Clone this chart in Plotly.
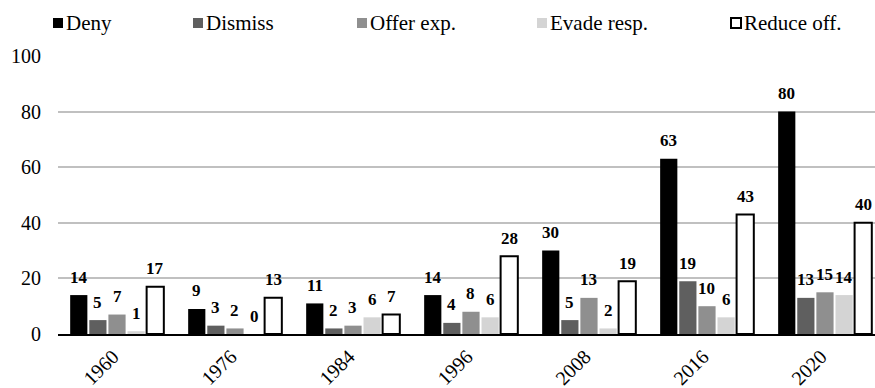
import plotly.graph_objects as go

# ---- data -------------------------------------------------------------
years = ["1960", "1976", "1984", "1996", "2008", "2016", "2020"]
series_names = ["Deny", "Dismiss", "Offer exp.", "Evade resp.", "Reduce off."]
deny = [14, 9, 11, 14, 30, 63, 80]
dismiss = [5, 3, 2, 4, 5, 19, 13]
offer_exp = [7, 2, 3, 8, 13, 10, 15]
evade_resp = [1, 0, 6, 6, 2, 6, 14]
reduce_off = [17, 13, 7, 28, 19, 43, 40]
y_ticks = [0, 20, 40, 60, 80, 100]

series_values = [deny, dismiss, offer_exp, evade_resp, reduce_off]

# ---- styling ----------------------------------------------------------
FONT = "Liberation Serif"
fills = ["#000000", "#5f5f5f", "#8f8f8f", "#d4d4d4", "#ffffff"]
outline_w = [0, 0, 0, 0, 2]

W, H = 875, 388
M_L, M_R, M_T, M_B = 58, 0, 56, 54
PW, PH = W - M_L - M_R, H - M_T - M_B
BARGAP, GROUPGAP = 0.19, 0.1


def px_x(px):
    return (px - M_L) / PW


def px_y(py):
    return (H - M_B - py) / PH


fig = go.Figure()
for name, vals, col, lw in zip(series_names, series_values, fills, outline_w):
    fig.add_trace(go.Bar(
        name=name, x=years, y=vals,
        marker=dict(color=col, line=dict(color="#000000", width=lw)),
        showlegend=False,
    ))

# value labels centred above every bar (category-index coordinates)
n = len(series_values)
slot = (1 - BARGAP) / n
annotations = []
for i, vals in enumerate(series_values):
    offset = -(1 - BARGAP) / 2 + slot * (i + 0.5)
    for j, v in enumerate(vals):
        annotations.append(dict(
            x=j + offset, y=v, xref="x", yref="y",
            text=f"<b>{v}</b>", showarrow=False,
            xanchor="center", yanchor="middle", yshift=18,
            font=dict(family=FONT, size=17, color="#000000"),
        ))

# legend row along the top
legend_marker_left = [53, 193, 357, 537, 731]
shapes = []
for name, col, lw, left in zip(series_names, fills, outline_w, legend_marker_left):
    shapes.append(dict(
        type="rect", xref="paper", yref="paper",
        x0=px_x(left), x1=px_x(left + 10), y0=px_y(28), y1=px_y(18),
        fillcolor=col, line=dict(color="#000000", width=lw),
    ))
    annotations.append(dict(
        x=px_x(left + 11), y=px_y(23), xref="paper", yref="paper",
        text=name, showarrow=False, xanchor="left", yanchor="middle",
        font=dict(family=FONT, size=21, color="#000000"),
    ))

fig.update_layout(
    width=W, height=H,
    margin=dict(l=M_L, r=M_R, t=M_T, b=M_B, pad=0, autoexpand=False),
    paper_bgcolor="#ffffff", plot_bgcolor="#ffffff",
    barmode="group", bargap=BARGAP, bargroupgap=GROUPGAP,
    font=dict(family=FONT, size=20, color="#000000"),
    annotations=annotations, shapes=shapes,
    showlegend=False,
)
fig.update_xaxes(
    type="category", range=[-0.5, 6.424],
    showgrid=False, zeroline=False,
    showline=True, linecolor="#000000", linewidth=2,
    tickangle=-45, ticks="", tickfont=dict(family=FONT, size=20),
    ticklabelstandoff=1, ticklabelshift=-4,
    automargin=False, fixedrange=True,
)
fig.update_yaxes(
    range=[0, 100], tickvals=y_ticks,
    showgrid=True, gridcolor="#c0c0c0", gridwidth=1.5,
    zeroline=False, showline=False, ticks="",
    ticklabelstandoff=16, tickfont=dict(family=FONT, size=20),
    automargin=False, fixedrange=True,
)

fig.write_html("out.html", config={"displayModeBar": False})
